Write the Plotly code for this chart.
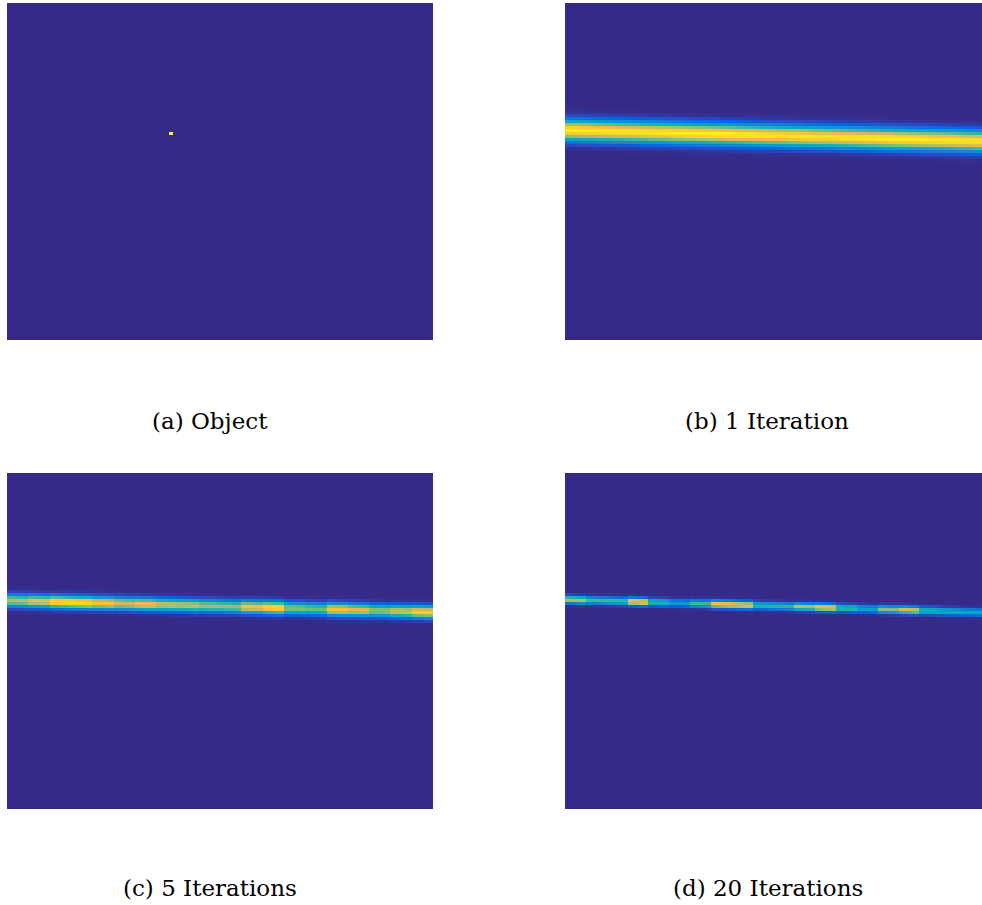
import numpy as np
import plotly.graph_objects as go

# Reconstruction grid (columns x rows) shared by every panel
GRID_COLS = 100
GRID_ROWS = 112

# Object: a single bright point source
object_col = 38
object_row = 43
object_value = 1.0

# Reconstructed line after 1, 5 and 20 iterations:
# row of the line centre at the left and right edges, and its spread (rows)
band_row_left = [41.9, 42.0, 41.7]
band_row_right = [45.6, 45.9, 46.0]
band_sigma = [2.2, 1.35, 0.8]

# Peak intensity along the line, one value per block of 5 columns
amp_iter1 = [0.97, 0.97, 0.96, 0.96, 0.97, 0.98, 0.98, 0.99, 0.98, 0.97,
             0.96, 0.96, 0.95, 0.96, 0.97, 0.98, 0.98, 0.97, 0.97, 0.96]
amp_iter5 = [0.70, 0.80, 0.95, 0.95, 0.85, 0.75, 0.82, 0.74, 0.72, 0.66,
             0.64, 0.84, 0.94, 0.62, 0.58, 0.85, 0.78, 0.64, 0.75, 0.88]
amp_iter20 = [0.70, 0.50, 0.52, 0.90, 0.48, 0.34, 0.50, 0.86, 0.84, 0.48,
              0.48, 0.70, 0.86, 0.52, 0.38, 0.62, 0.78, 0.48, 0.42, 0.38]

captions = ["(a) Object", "(b) 1 Iteration", "(c) 5 Iterations", "(d) 20 Iterations"]

# Parula colour scale (sampled from the 64-entry table)
parula_idx = [0, 5, 8, 12, 16, 20, 24, 28, 32, 36, 40, 44, 48, 52, 54, 56, 58, 60, 63]
parula_hex = ["#352A87", "#2C4AC7", "#0363E1", "#0D75DC", "#1485D4", "#0998D1",
              "#06A7C6", "#15B1B4", "#38B99E", "#65BE86", "#92BF73", "#B7BD64",
              "#D9BA56", "#F8BB44", "#FFC337", "#FCCE2E", "#F7D826", "#F5E41D",
              "#F9FB0E"]
parula = [[i / 63, c] for i, c in zip(parula_idx, parula_hex)]


def object_image():
    z = np.zeros((GRID_ROWS, GRID_COLS))
    z[object_row, object_col] = object_value
    return z


def band_image(k, amps):
    z = np.zeros((GRID_ROWS, GRID_COLS))
    rows = np.arange(GRID_ROWS)
    block = GRID_COLS // len(amps)
    for j in range(GRID_COLS):
        c = band_row_left[k] + (band_row_right[k] - band_row_left[k]) * (j + 0.5) / GRID_COLS
        a = amps[j // block]
        z[:, j] = a * np.exp(-((rows - c) ** 2) / (2 * band_sigma[k] ** 2))
    return z


images = [object_image(),
          band_image(0, amp_iter1),
          band_image(1, amp_iter5),
          band_image(2, amp_iter20)]

W, H = 982, 905
# panel boxes in pixels: left, right, top, bottom
boxes = [(7, 433, 3, 340), (565, 982, 3, 340), (7, 433, 473, 809), (565, 982, 473, 809)]
caption_pos = [(210, 421), (767, 421), (210, 888), (768, 888)]

fig = go.Figure()
for i, (z, box) in enumerate(zip(images, boxes)):
    xa = "x" if i == 0 else f"x{i + 1}"
    ya = "y" if i == 0 else f"y{i + 1}"
    fig.add_trace(go.Heatmap(z=z, colorscale=parula, zmin=0, zmax=1, zsmooth=False,
                             showscale=False, xaxis=xa, yaxis=ya, hoverinfo="skip"))
    l, r, t, b = box
    ax = dict(domain=[l / W, r / W], showgrid=False, zeroline=False, showticklabels=False,
              ticks="", range=[-0.5, GRID_COLS - 0.5], anchor=ya)
    ay = dict(domain=[1 - b / H, 1 - t / H], showgrid=False, zeroline=False,
              showticklabels=False, ticks="", range=[GRID_ROWS - 0.5, -0.5], anchor=xa)
    fig.layout["xaxis" if i == 0 else f"xaxis{i + 1}"] = ax
    fig.layout["yaxis" if i == 0 else f"yaxis{i + 1}"] = ay
    cx, cy = caption_pos[i]
    fig.add_annotation(text=captions[i], x=cx / W, y=1 - cy / H, xref="paper", yref="paper",
                       showarrow=False, xanchor="center", yanchor="middle",
                       font=dict(family="DejaVu Serif", size=23, color="#000000"))

fig.update_layout(width=W, height=H, margin=dict(l=0, r=0, t=0, b=0),
                  paper_bgcolor="white", plot_bgcolor="white")
fig.write_html("out.html")
